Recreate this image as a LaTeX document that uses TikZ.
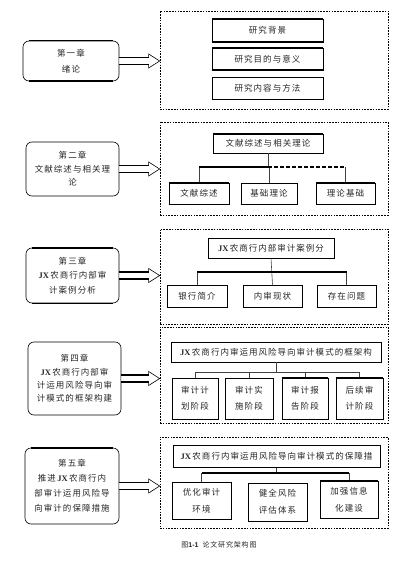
\documentclass[tikz,border=0pt]{standalone}
\usepackage{fontspec}
\setmainfont{Liberation Serif}
\newfontfamily\cjk{Noto Sans CJK SC}[LetterSpace=12]
\newfontfamily\capsans{Liberation Sans}
\usetikzlibrary{calc}
\newcommand\JX{{\normalfont\bfseries JX}\,}
\newcommand\hollowarrow[2]{%
  \coordinate (#1tip) at (#1.east -| #2.west);
  \draw[line width=0.6pt, fill=white] ($(#1.east)+(0,-3.5)$) -- ($(#1tip)+(-11,-3.5)$) -- ($(#1tip)+(-11,-7)$) -- (#1tip) -- ($(#1tip)+(-11,7)$) -- ($(#1tip)+(-11,3.5)$) -- ($(#1.east)+(0,3.5)$);
  \draw[line width=1.6pt] ($(#1.east)+(0,-3.5)$) -- ($(#1tip)+(-11,-3.5)$);
  \draw[line width=1.6pt] ($(#1.east)+(0,3.5)$) -- ($(#1tip)+(-11,3.5)$);
}
\newcommand\topthk[2][0]{\draw[line width=1.6pt] ($(#2.north west)+(#1,0)$) -- ($(#2.north east)+(-#1,0)$);}
\newcommand\botthk[2][0]{\draw[line width=1.6pt] ($(#2.south west)+(#1,0)$) -- ($(#2.south east)+(-#1,0)$);}
\begin{document}
\begin{tikzpicture}[x=1pt,y=-1pt,
  box/.style={draw, line width=0.6pt, inner sep=0pt, align=center,
    font=\cjk\fontsize{8.5}{14}\selectfont, text=black!85},
  chap/.style={box, rounded corners=6pt},
  frame/.style={draw, line width=0.7pt, dash pattern=on 1.6pt off 1.2pt, inner sep=0pt,
    minimum width=228pt},
  conn/.style={line width=0.6pt, draw=black!75},
  bus/.style={line width=1.4pt}]
\useasboundingbox (0,0) rectangle (414,561);

% ---------- Section 1 ----------
\node[frame, minimum height=98pt] (D1) at (274,60) {};
\node[chap, minimum width=96pt, minimum height=40pt, font=\cjk\fontsize{8.5}{16}\selectfont] (L1) at (71,61) {第一章\\绪论};
\node[box, minimum width=111pt, minimum height=23pt] (b11) at (267.5,30.5) {研究背景};
\node[box, minimum width=111pt, minimum height=22pt] (b12) at (267.5,59) {研究目的与意义};
\node[box, minimum width=111pt, minimum height=22pt] (b13) at (267.5,88.5) {研究内容与方法};
\topthk[6]{L1}\botthk[6]{L1}
\topthk{b11}\botthk{b11}\topthk{b12}\botthk{b12}
\hollowarrow{L1}{D1}

% ---------- Section 2 ----------
\node[frame, minimum height=93pt] (D2) at (274,168.5) {};
\node[chap, minimum width=93pt, minimum height=54pt, font=\cjk\fontsize{8.5}{13.5}\selectfont] (L2) at (72.5,169) {第二章\\文献综述与相关理\\论};
\node[box, minimum width=110pt, minimum height=19pt] (t2) at (268,143.5) {文献综述与相关理论};
\node[box, minimum width=60pt, minimum height=21pt] (c21) at (199,193.5) {文献综述};
\node[box, minimum width=56pt, minimum height=21pt] (c22) at (269,193.5) {基础理论};
\node[box, minimum width=59pt, minimum height=21pt] (c23) at (345.5,193.5) {理论基础};
\coordinate (bus2) at (0,167);
\draw[conn] (t2.south) -- (t2.south |- bus2);
\draw[conn] (c21.north) -- (c21.north |- bus2);
\draw[conn] (c22.north) -- (c22.north |- bus2);
\draw[conn] (c23.north) -- (c23.north |- bus2);
\draw[bus] (c21.north |- bus2) -- (t2.south |- bus2);
\draw[bus, dash pattern=on 4pt off 2pt] (t2.south |- bus2) -- (c23.north |- bus2);
\topthk{t2}
\topthk{c21}\botthk{c21}\botthk{c22}\topthk{c23}\botthk{c23}
\hollowarrow{L2}{D2}

% ---------- Section 3 ----------
\node[frame, minimum height=95pt] (D3) at (274,276.5) {};
\node[chap, minimum width=93pt, minimum height=55pt, font=\cjk\fontsize{8.5}{14.5}\selectfont] (L3) at (72.5,275.5) {第三章\\\JX 农商行内部审\\计案例分析};
\node[box, minimum width=126pt, minimum height=20pt] (t3) at (271,248) {\JX 农商行内部审计案例分};
\node[box, minimum width=60pt, minimum height=22pt] (c31) at (197,296) {银行简介};
\node[box, minimum width=59pt, minimum height=22pt] (c32) at (272.5,296) {内审现状};
\node[box, minimum width=59pt, minimum height=22pt] (c33) at (346.5,296) {存在问题};
\coordinate (bus3) at (0,272);
\draw[conn] (t3.south) -- (c32.north);
\draw[conn] (c31.north) -- (c31.north |- bus3);
\draw[conn] (c33.north) -- (c33.north |- bus3);
\draw[bus] (c31.north |- bus3) -- (c33.north |- bus3);
\topthk[6]{L3}\botthk[6]{L3}
\botthk{c31}\botthk{c32}\botthk{c33}
\hollowarrow{L3}{D3}

% ---------- Section 4 ----------
\node[frame, minimum height=96pt] (D4) at (274,375) {};
\node[chap, minimum width=93pt, minimum height=73pt, font=\cjk\fontsize{8.5}{13.4}\selectfont] (L4) at (74.5,378.5) {第四章\\\JX 农商行内部审\\计运用风险导向审\\计模式的框架构建};
\node[box, minimum width=210pt, minimum height=20pt] (t4) at (276,352) {\JX 农商行内审运用风险导向审计模式的框架构};
\node[box, minimum width=46pt, minimum height=41pt, font=\cjk\fontsize{8.5}{16}\selectfont] (c41) at (195,398.5) {审计计\\划阶段};
\node[box, minimum width=48pt, minimum height=41pt, font=\cjk\fontsize{8.5}{16}\selectfont] (c42) at (249,398.5) {审计实\\施阶段};
\node[box, minimum width=46pt, minimum height=41pt, font=\cjk\fontsize{8.5}{16}\selectfont] (c43) at (305,398.5) {审计报\\告阶段};
\node[box, minimum width=47pt, minimum height=41pt, font=\cjk\fontsize{8.5}{16}\selectfont] (c44) at (359.5,398.5) {后续审\\计阶段};
\coordinate (bus4) at (0,372);
\draw[conn] (t4.south) -- (t4.south |- bus4);
\draw[conn] (c41.north) -- (c41.north |- bus4) -- (c44.north |- bus4) -- (c44.north);
\draw[conn] (c42.north) -- (c42.north |- bus4);
\draw[conn] (c43.north) -- (c43.north |- bus4);
\botthk{c41}\botthk{c42}\topthk{c43}\botthk{c43}\topthk{c44}\botthk{c44}
\hollowarrow{L4}{D4}

% ---------- Section 5 ----------
\node[frame, minimum height=91pt] (D5) at (274,482.5) {};
\node[chap, minimum width=94pt, minimum height=76pt, font=\cjk\fontsize{8.5}{15}\selectfont] (L5) at (72,486) {第五章\\推进\,\JX 农商行内\\部审计运用风险导\\向审计的保障措施};
\node[box, minimum width=207pt, minimum height=22pt] (t5) at (276.5,456) {\JX 农商行内审运用风险导向审计模式的保障措};
\node[box, minimum width=59pt, minimum height=37pt, font=\cjk\fontsize{8.5}{17}\selectfont] (c51) at (201.5,500.5) {优化审计\\环境};
\node[box, minimum width=59pt, minimum height=38pt, font=\cjk\fontsize{8.5}{17}\selectfont] (c52) at (277.5,502) {健全风险\\评估体系};
\node[box, minimum width=58pt, minimum height=37pt, font=\cjk\fontsize{8.5}{17}\selectfont] (c53) at (349,499.5) {加强信息\\化建设};
\coordinate (bus5) at (0,473);
\draw[conn] (t5.south) -- (t5.south |- bus5);
\draw[conn] (c51.north) -- (c51.north |- bus5);
\draw[conn] (c53.north) -- (c53.north |- bus5);
\draw[bus] (c51.north |- bus5) -- (c53.north |- bus5);
\topthk[6]{L5}
\botthk{t5}\botthk{c52}\topthk{c53}\botthk{c53}
\hollowarrow{L5}{D5}

% ---------- Caption ----------
\node[inner sep=0pt, font=\fontsize{7}{8}\selectfont, text=black!85] (cap) at (219,545) {{\cjk 图}{\capsans\bfseries 1-1}\hspace{4pt}{\cjk 论文研究架构图}};
\end{tikzpicture}
\end{document}
